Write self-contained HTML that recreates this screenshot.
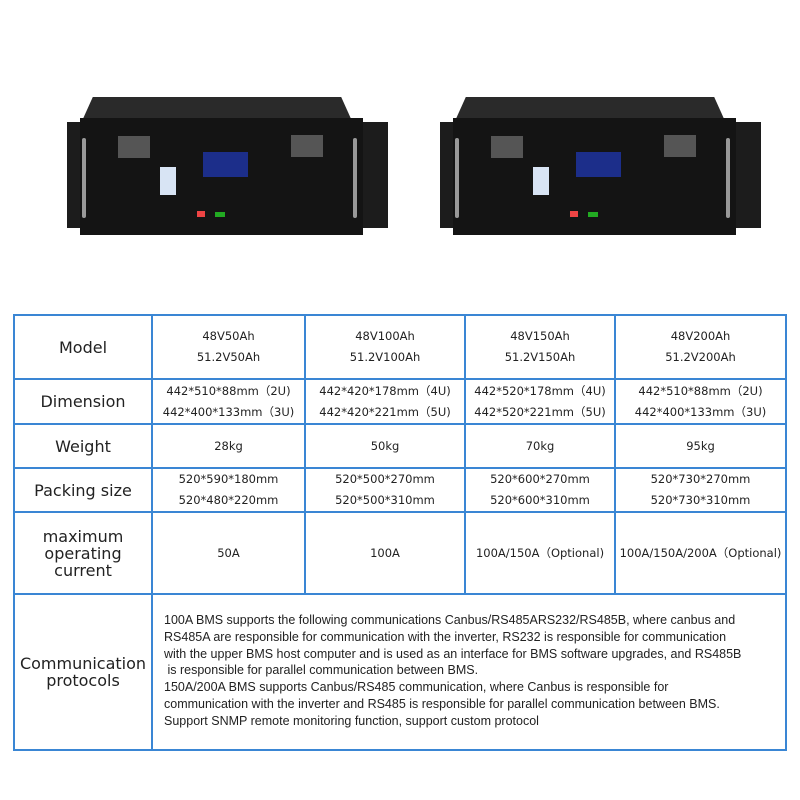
<!DOCTYPE html><html><head><style>
body{margin:0;width:800px;height:800px;background:#fff;position:relative;font-family:"Liberation Sans","DejaVu Sans",sans-serif;overflow:hidden}
.a{position:absolute}
.h{position:absolute;background:#3a86d4;height:2px}
.v{position:absolute;background:#3a86d4;width:2px}
.c{position:absolute;display:flex;align-items:center;justify-content:center;text-align:center;color:#222}
.l{font-family:"DejaVu Sans",sans-serif;font-size:16px;line-height:17px}
.d{font-family:"DejaVu Sans",sans-serif;font-size:11.5px;line-height:21px}
</style></head><body>
<div class="a" style="left:0;top:0">
 <div class="a" style="left:67px;top:122px;width:321px;height:106px;background:#1c1c1c"></div>
 <div class="a" style="left:82px;top:97px;width:270px;height:24px;background:#2a2a2a;clip-path:polygon(4% 0,96% 0,100% 100%,0 100%)"></div>
 <div class="a" style="left:80px;top:118px;width:283px;height:117px;background:#141414"></div>
 <div class="a" style="left:82px;top:138px;width:4px;height:80px;background:#999;border-radius:2px"></div>
 <div class="a" style="left:353px;top:138px;width:4px;height:80px;background:#999;border-radius:2px"></div>
 <div class="a" style="left:118px;top:136px;width:32px;height:22px;background:#555"></div>
 <div class="a" style="left:291px;top:135px;width:32px;height:22px;background:#555"></div>
 <div class="a" style="left:203px;top:152px;width:45px;height:25px;background:#1c2e8a"></div>
 <div class="a" style="left:160px;top:167px;width:16px;height:28px;background:#d8e4f4"></div>
 <div class="a" style="left:197px;top:211px;width:8px;height:6px;background:#e44"></div>
 <div class="a" style="left:215px;top:212px;width:10px;height:5px;background:#2a2"></div>
</div>
<div class="a" style="left:373px;top:0">
 <div class="a" style="left:67px;top:122px;width:321px;height:106px;background:#1c1c1c"></div>
 <div class="a" style="left:82px;top:97px;width:270px;height:24px;background:#2a2a2a;clip-path:polygon(4% 0,96% 0,100% 100%,0 100%)"></div>
 <div class="a" style="left:80px;top:118px;width:283px;height:117px;background:#141414"></div>
 <div class="a" style="left:82px;top:138px;width:4px;height:80px;background:#999;border-radius:2px"></div>
 <div class="a" style="left:353px;top:138px;width:4px;height:80px;background:#999;border-radius:2px"></div>
 <div class="a" style="left:118px;top:136px;width:32px;height:22px;background:#555"></div>
 <div class="a" style="left:291px;top:135px;width:32px;height:22px;background:#555"></div>
 <div class="a" style="left:203px;top:152px;width:45px;height:25px;background:#1c2e8a"></div>
 <div class="a" style="left:160px;top:167px;width:16px;height:28px;background:#d8e4f4"></div>
 <div class="a" style="left:197px;top:211px;width:8px;height:6px;background:#e44"></div>
 <div class="a" style="left:215px;top:212px;width:10px;height:5px;background:#2a2"></div>
</div>
<div class="h" style="left:13px;top:314px;width:774px"></div>
<div class="h" style="left:13px;top:378px;width:774px"></div>
<div class="h" style="left:13px;top:423px;width:774px"></div>
<div class="h" style="left:13px;top:467px;width:774px"></div>
<div class="h" style="left:13px;top:511px;width:774px"></div>
<div class="h" style="left:13px;top:593px;width:774px"></div>
<div class="h" style="left:13px;top:749px;width:774px"></div>
<div class="v" style="left:13px;top:314px;height:437px"></div>
<div class="v" style="left:151px;top:314px;height:437px"></div>
<div class="v" style="left:304px;top:314px;height:281px"></div>
<div class="v" style="left:464px;top:314px;height:281px"></div>
<div class="v" style="left:614px;top:314px;height:281px"></div>
<div class="v" style="left:785px;top:314px;height:437px"></div>
<div class="c l" style="left:15px;top:316px;width:136px;height:62px">Model</div>
<div class="c l" style="left:15px;top:380px;width:136px;height:43px">Dimension</div>
<div class="c l" style="left:15px;top:425px;width:136px;height:42px">Weight</div>
<div class="c l" style="left:15px;top:469px;width:136px;height:42px">Packing size</div>
<div class="c l" style="left:15px;top:513px;width:136px;height:80px">maximum<br>operating<br>current</div>
<div class="c l" style="left:15px;top:595px;width:136px;height:154px">Communication<br>protocols</div>
<div class="c d" style="left:153px;top:316px;width:151px;height:62px">48V50Ah<br>51.2V50Ah</div>
<div class="c d" style="left:306px;top:316px;width:158px;height:62px">48V100Ah<br>51.2V100Ah</div>
<div class="c d" style="left:466px;top:316px;width:148px;height:62px">48V150Ah<br>51.2V150Ah</div>
<div class="c d" style="left:616px;top:316px;width:169px;height:62px">48V200Ah<br>51.2V200Ah</div>
<div class="c d" style="left:153px;top:380px;width:151px;height:43px">442*510*88mm（2U)<br>442*400*133mm（3U)</div>
<div class="c d" style="left:306px;top:380px;width:158px;height:43px">442*420*178mm（4U)<br>442*420*221mm（5U)</div>
<div class="c d" style="left:466px;top:380px;width:148px;height:43px">442*520*178mm（4U)<br>442*520*221mm（5U)</div>
<div class="c d" style="left:616px;top:380px;width:169px;height:43px">442*510*88mm（2U)<br>442*400*133mm（3U)</div>
<div class="c d" style="left:153px;top:425px;width:151px;height:42px">28kg</div>
<div class="c d" style="left:306px;top:425px;width:158px;height:42px">50kg</div>
<div class="c d" style="left:466px;top:425px;width:148px;height:42px">70kg</div>
<div class="c d" style="left:616px;top:425px;width:169px;height:42px">95kg</div>
<div class="c d" style="left:153px;top:469px;width:151px;height:42px">520*590*180mm<br>520*480*220mm</div>
<div class="c d" style="left:306px;top:469px;width:158px;height:42px">520*500*270mm<br>520*500*310mm</div>
<div class="c d" style="left:466px;top:469px;width:148px;height:42px">520*600*270mm<br>520*600*310mm</div>
<div class="c d" style="left:616px;top:469px;width:169px;height:42px">520*730*270mm<br>520*730*310mm</div>
<div class="c d" style="left:153px;top:513px;width:151px;height:80px">50A</div>
<div class="c d" style="left:306px;top:513px;width:158px;height:80px">100A</div>
<div class="c d" style="left:466px;top:513px;width:148px;height:80px">100A/150A（Optional)</div>
<div class="c d" style="left:616px;top:513px;width:169px;height:80px;white-space:nowrap">100A/150A/200A（Optional)</div>
<div class="a" style="left:164px;top:612px;font-size:12.5px;line-height:16.8px;color:#222;white-space:nowrap">100A BMS supports the following communications Canbus/RS485ARS232/RS485B, where canbus and<br>RS485A are responsible for communication with the inverter, RS232 is responsible for communication<br>with the upper BMS host computer and is used as an interface for BMS software upgrades, and RS485B<br>&nbsp;is responsible for parallel communication between BMS.<br>150A/200A BMS supports Canbus/RS485 communication, where Canbus is responsible for<br>communication with the inverter and RS485 is responsible for parallel communication between BMS.<br>Support SNMP remote monitoring function, support custom protocol</div>
</body></html>
